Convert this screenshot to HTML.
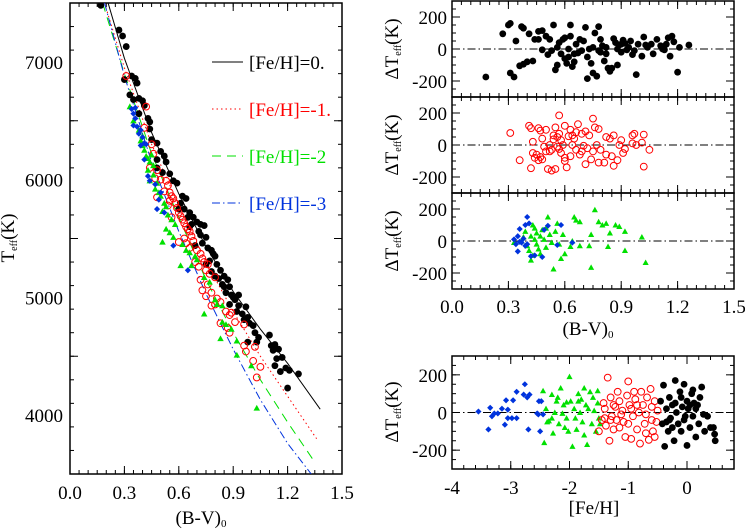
<!DOCTYPE html>
<html><head><meta charset="utf-8"><style>
html,body{margin:0;padding:0;background:#fff;}
svg{display:block;font-family:"Liberation Serif","DejaVu Serif",serif;}
</style></head><body>
<svg id="chart" width="745" height="531" viewBox="0 0 745 531" xmlns="http://www.w3.org/2000/svg"></svg>
<script>
// ---- Main panel data: (B-V)0, Teff ----
const mainBlackBV=[0.17,0.27,0.29,0.31,0.30,0.34,0.36,0.37,0.33,0.35,0.38,0.40,0.41,0.38,0.43,0.44,0.44,0.45,0.48,0.50,0.52,0.48,0.53,0.48,0.51,0.55,0.57,0.59,0.62,0.64,0.61,0.63,0.66,0.65,0.68,0.70,0.67,0.72,0.74,0.71,0.75,0.73,0.76,0.78,0.79,0.80,0.77,0.81,0.78,0.83,0.82,0.85,0.87,0.85,0.88,0.86,0.89,0.90,0.91,0.88,0.93,0.92,0.97,0.95,0.98,0.96,0.99,1.01,1.02,1.04,1.03,1.10,1.11,1.13,1.12,1.15,1.14,1.17,1.13,1.16,1.19,1.21,1.26,1.20,0.98,0.60,0.66,0.75,0.84,0.93,0.72,0.69,0.80];
const mainBlackT=[7480,7270,7220,7130,6850,6880,6860,6820,6720,6680,6690,6670,6630,6560,6520,6490,6430,6340,6310,6240,6200,6170,6150,6100,6060,6050,5990,5970,5860,5840,5800,5750,5720,5680,5680,5640,5620,5620,5610,5560,5510,5460,5420,5400,5370,5350,5310,5280,5220,5230,5160,5180,5150,5090,5090,5040,5020,5000,4980,4940,4930,4880,4920,4860,4830,4810,4780,4760,4700,4660,4620,4680,4590,4600,4550,4560,4480,4490,4420,4370,4400,4380,4350,4230,4620,5750,5600,5280,5110,5020,5530,5440,5180];
const mainRedBV=[0.31,0.42,0.41,0.45,0.46,0.44,0.48,0.47,0.50,0.53,0.54,0.52,0.55,0.56,0.57,0.55,0.58,0.54,0.59,0.60,0.61,0.62,0.63,0.64,0.65,0.66,0.67,0.63,0.68,0.64,0.66,0.70,0.72,0.73,0.69,0.74,0.76,0.71,0.75,0.77,0.80,0.72,0.76,0.73,0.78,0.75,0.81,0.83,0.80,0.78,0.86,0.89,0.88,0.83,0.87,0.91,0.96,0.88,0.96,0.97,1.02,1.01,1.05,1.03,0.60,0.48,0.56];
const mainRedT=[6880,6620,6440,6300,6220,6100,6080,6010,6000,5990,5950,5900,5890,5860,5840,5820,5800,5780,5760,5720,5690,5660,5630,5600,5580,5560,5520,5500,5480,5460,5420,5400,5370,5330,5300,5300,5280,5260,5230,5200,5170,5150,5110,5060,5040,5010,4990,4960,4940,4930,4880,4870,4850,4780,4740,4790,4770,4700,4590,4540,4580,4460,4410,4320,5470,5850,5680];
const mainGreenBV=[0.33,0.35,0.38,0.39,0.40,0.41,0.42,0.43,0.44,0.46,0.43,0.46,0.44,0.48,0.47,0.49,0.50,0.52,0.53,0.51,0.54,0.56,0.58,0.53,0.55,0.51,0.57,0.62,0.64,0.66,0.69,0.70,0.61,0.67,0.74,0.77,0.80,0.81,0.84,0.74,0.84,0.86,0.89,0.83,0.92,0.92,1.00,1.03,0.45,0.40];
const mainGreenT=[6620,6500,6420,6330,6290,6250,6200,6180,6150,6120,6080,6040,5990,5970,5920,5890,5860,5800,5770,5730,5700,5660,5620,5580,5550,5470,5510,5450,5400,5380,5350,5320,5270,5270,5170,5130,4980,4940,4930,4860,4790,4770,4730,4650,4630,4510,4420,4060,6210,6370];
const mainBlueBV=[0.34,0.35,0.36,0.35,0.37,0.39,0.38,0.40,0.41,0.39,0.41,0.43,0.44,0.47,0.50,0.49,0.48,0.52,0.57,0.65,0.36,0.42];
const mainBlueT=[6600,6560,6520,6460,6450,6420,6390,6360,6310,6290,6170,6030,5990,5960,5890,5830,5750,5720,5440,5230,6610,6300];
// fitted relations
const fitBlackBV=[0.21,0.3,0.45,0.6,0.75,0.9,1.05,1.2,1.38];
const fitBlackT=[7500,7030,6400,5880,5430,5050,4730,4440,4050];
const fitRedBV=[0.19,0.3,0.45,0.6,0.75,0.9,1.05,1.2,1.36];
const fitRedT=[7500,6950,6300,5780,5300,4880,4500,4160,3800];
const fitGreenBV=[0.18,0.3,0.45,0.6,0.75,0.9,1.05,1.2,1.35];
const fitGreenT=[7500,6900,6220,5680,5150,4700,4300,3940,3600];
const fitBlueBV=[0.19,0.3,0.45,0.6,0.75,0.9,1.05,1.2,1.33];
const fitBlueT=[7500,6880,6150,5560,5030,4560,4130,3760,3500];
// ---- residual panels ----
const resBlackBV=[0.18,0.27,0.30,0.31,0.31,0.33,0.34,0.36,0.37,0.38,0.38,0.40,0.41,0.43,0.44,0.46,0.46,0.48,0.50,0.51,0.52,0.53,0.54,0.55,0.56,0.57,0.58,0.59,0.60,0.60,0.61,0.62,0.62,0.63,0.63,0.64,0.65,0.66,0.67,0.68,0.69,0.70,0.71,0.72,0.72,0.73,0.74,0.75,0.75,0.76,0.77,0.78,0.78,0.79,0.80,0.81,0.82,0.82,0.83,0.84,0.85,0.86,0.87,0.88,0.88,0.89,0.90,0.91,0.92,0.93,0.94,0.95,0.96,0.97,0.98,0.99,1.01,1.02,1.03,1.04,1.06,1.07,1.09,1.11,1.12,1.13,1.14,1.15,1.16,1.17,1.18,1.20,1.21,1.26,0.90,0.56,0.65,0.48,0.79];
const resBlackDT=[-175,95,150,160,-150,-175,50,-105,140,130,-95,-80,95,-75,60,110,60,-5,80,-35,60,-10,150,-130,-100,40,-30,60,70,-60,-90,0,-50,150,80,-110,-80,30,-25,60,-10,50,135,-50,-185,0,-90,-150,10,100,-170,140,-10,60,20,-75,-30,10,-120,-140,-120,65,40,-100,0,25,-20,55,35,-5,10,50,-35,-10,-160,30,-45,75,25,10,30,-30,60,20,0,-5,30,70,-45,80,45,-145,10,25,30,10,-30,115,-20];
const resRedBV=[0.31,0.36,0.41,0.42,0.43,0.42,0.43,0.45,0.46,0.46,0.47,0.48,0.48,0.49,0.50,0.50,0.51,0.52,0.53,0.53,0.54,0.55,0.55,0.56,0.56,0.57,0.57,0.58,0.58,0.59,0.60,0.60,0.61,0.62,0.63,0.63,0.64,0.65,0.66,0.66,0.67,0.68,0.69,0.70,0.71,0.71,0.72,0.73,0.74,0.75,0.75,0.76,0.77,0.78,0.78,0.79,0.81,0.82,0.82,0.84,0.85,0.86,0.86,0.88,0.89,0.90,0.91,0.92,0.96,0.96,0.97,0.98,1.01,1.02,1.02,1.05,0.44,0.47,0.54,0.57,0.52,0.60,0.64,0.69];
const resRedDT=[75,-95,120,105,20,-145,-50,-60,105,-95,-75,40,-90,-10,-40,95,-150,-40,-160,-30,35,-150,110,50,-10,185,70,30,-50,0,-100,120,-140,55,95,-70,0,40,-30,80,130,-60,70,-5,-120,85,-20,60,-90,-40,165,110,0,100,-110,-30,-110,50,-60,40,-70,60,-130,-95,0,30,-50,-25,60,10,70,0,15,65,-135,-30,-80,90,60,-25,0,-80,60,-40];
const resGreenBV=[0.33,0.37,0.39,0.40,0.41,0.42,0.42,0.43,0.44,0.44,0.45,0.45,0.46,0.47,0.47,0.48,0.49,0.50,0.50,0.51,0.52,0.53,0.54,0.55,0.56,0.57,0.58,0.59,0.60,0.63,0.64,0.65,0.66,0.68,0.68,0.73,0.74,0.74,0.76,0.78,0.80,0.82,0.83,0.84,0.87,0.89,0.92,0.92,1.01,1.03,0.38,0.43];
const resGreenDT=[-10,0,60,-30,-60,30,-120,100,80,10,-20,50,-50,30,-80,70,10,-40,80,150,40,-10,-175,60,110,-20,-110,40,-80,-35,0,150,130,120,-30,-30,-165,40,195,120,100,110,-35,50,100,90,60,-60,25,-135,25,-90];
const resBlueBV=[0.33,0.34,0.35,0.35,0.36,0.37,0.38,0.39,0.39,0.40,0.40,0.41,0.42,0.44,0.48,0.49,0.51,0.56,0.58,0.64,0.36];
const resBlueDT=[10,-20,30,-65,75,-10,15,100,-30,150,-20,110,-95,-90,-100,70,95,-25,100,-10,-5];
// ---- [Fe/H] panel ----
const fehBlue=[-3.55,-3.38,-3.35,-3.32,-3.28,-3.22,-3.15,-3.10,-3.08,-3.05,-3.05,-2.98,-2.96,-2.90,-2.90,-2.78,-2.76,-2.72,-2.70,-2.68,-2.55,-2.53,-2.50,-2.48,-2.45,-2.52];
const fehBlueDT=[5,-90,25,-20,-5,-5,20,-65,65,-30,15,-30,65,-30,110,95,150,80,-90,95,-5,-10,-100,60,-10,60];
const fehGreen=[-2.45,-2.43,-2.40,-2.38,-2.35,-2.30,-2.28,-2.25,-2.22,-2.20,-2.18,-2.15,-2.12,-2.10,-2.08,-2.05,-2.02,-2.00,-1.98,-1.95,-1.92,-1.90,-1.88,-1.85,-1.82,-1.80,-1.78,-1.75,-1.72,-1.70,-1.68,-1.65,-1.62,-1.60,-1.58,-1.55,-1.52,-1.50,-1.52,-1.48,-2.3,-2.05,-1.75,-1.85];
const fehGreenDT=[115,-160,20,-50,-45,-30,-110,0,60,80,-60,130,-5,40,-80,55,-100,190,60,-180,20,-30,-90,100,0,70,-50,130,40,-170,20,110,-60,80,10,-100,50,-30,115,-60,95,-30,-120,60];
const fehRed=[-1.50,-1.45,-1.42,-1.40,-1.38,-1.35,-1.32,-1.30,-1.28,-1.25,-1.22,-1.20,-1.18,-1.15,-1.12,-1.10,-1.08,-1.05,-1.02,-1.00,-0.98,-0.95,-0.92,-0.90,-0.88,-0.85,-0.82,-0.80,-0.78,-0.75,-0.72,-0.70,-0.68,-0.65,-0.62,-0.60,-0.58,-0.55,-0.52,-0.50,-1.40,-1.30,-1.15,-1.00,-0.85,-0.70,-0.60,-0.55,-1.25,-0.95];
const fehRedDT=[-100,-40,50,-30,-70,185,-150,80,-20,-90,30,-40,110,60,-10,10,-50,-130,90,165,40,-140,-20,110,70,-90,0,-165,110,40,-60,-10,80,-145,125,30,-100,60,-50,10,20,-40,-80,-60,40,-110,-40,-130,40,20];
const fehBlack=[-0.45,-0.42,-0.40,-0.38,-0.35,-0.32,-0.30,-0.28,-0.25,-0.22,-0.20,-0.18,-0.15,-0.12,-0.10,-0.08,-0.05,-0.03,0.00,0.00,0.02,0.05,0.08,0.10,0.12,0.15,0.18,0.20,0.22,0.25,0.28,0.30,0.35,0.40,0.45,0.48,0.47,-0.30,-0.20,-0.10,0.05,0.15,-0.35,-0.05,0.10,-0.25];
const fehBlackDT=[60,-60,145,-180,20,-100,80,-30,40,-150,170,0,-60,110,-100,30,150,-20,60,-175,20,-80,100,-20,50,-130,40,-60,80,135,-10,-100,-20,-80,-80,-150,-115,-40,50,80,40,20,-50,-40,120,-80];
const mainXTicks=["0.0","0.3","0.6","0.9","1.2","1.5"];
const mainYTicks=["4000","5000","6000","7000"];
const resYTicks=["-200","0","200"];
const fehXTicks=["-4","-3","-2","-1","0"];

const FS=19;
const svg=document.getElementById('chart');
const NS='http://www.w3.org/2000/svg';
function mk(tag,attrs,parent){const e=document.createElementNS(NS,tag);for(const k in attrs)e.setAttribute(k,attrs[k]);(parent||svg).appendChild(e);return e;}
function lin(d0,d1,r0,r1){return v=>r0+(v-d0)/(d1-d0)*(r1-r0);}
const COL={k:'#000',r:'#ff0000',g:'#00e000',b:'#0033dd'};

function marker(g,type,x,y,s){
  let e;
  if(type==='k'){e=mk('circle',{cx:x,cy:y,r:3.4*s,fill:'#000'},g);}
  else if(type==='r'){e=mk('circle',{cx:x,cy:y,r:3.4*s,fill:'none',stroke:COL.r,'stroke-width':1},g);}
  else if(type==='g'){const a=3.6*s;e=mk('polygon',{points:`${x},${y-a} ${x-a},${y+a*0.8} ${x+a},${y+a*0.8}`,fill:COL.g},g);}
  else {const a=3.4*s;e=mk('polygon',{points:`${x},${y-a} ${x+a},${y} ${x},${y+a} ${x-a},${y}`,fill:COL.b},g);}
  
  
}
function frame(name,x0,y0,x1,y1,xs,ys,xMaj,xMin,yMaj,yMin){
  const g=mk('g',{});
  
  
  mk('rect',{x:x0,y:y0,width:x1-x0,height:y1-y0,fill:'none',stroke:'#000','stroke-width':1.5},g);
  const tk=(arr,len,isX)=>arr.forEach(v=>{
    if(isX){const p=xs(v);mk('line',{x1:p,x2:p,y1:y1,y2:y1-len,stroke:'#000'},g);mk('line',{x1:p,x2:p,y1:y0,y2:y0+len,stroke:'#000'},g);}
    else{const p=ys(v);mk('line',{x1:x0,x2:x0+len,y1:p,y2:p,stroke:'#000'},g);mk('line',{x1:x1,x2:x1-len,y1:p,y2:p,stroke:'#000'},g);}
  });
  tk(xMaj,8,true);tk(xMin,4,true);tk(yMaj,8,false);tk(yMin,4,false);
  return g;
}
function range(a,b,s){const r=[];for(let v=a;v<=b+1e-9;v+=s)r.push(+v.toFixed(4));return r;}
function text(str,x,y,anchor,size,name,fill){const t=mk('text',{x:x,y:y,'text-anchor':anchor,'font-size':size,fill:fill||'#000'});t.textContent=str;return t;}
function ytitle(prefix,x,y,name){
  const t=mk('text',{transform:`translate(${x},${y}) rotate(-90)`,'text-anchor':'middle','font-size':FS});
  
  t.appendChild(document.createTextNode(prefix));const s=mk('tspan',{'font-size':10,dy:3},t);s.textContent='eff';const s2=mk('tspan',{dy:-3},t);s2.textContent='(K)';
}

// ===== Main panel =====
const mx=lin(0,1.5,70,342), my=lin(3500,7500,474,3);
frame('main',70,3,342,474,mx,my,range(0,1.5,0.3),range(0,1.5,0.05),range(3500,7500,1000).slice(1),range(3500,7500,200));
mainXTicks.forEach(s=>text(s,mx(+s),499,'middle',FS,'x-tick-label'));
mainYTicks.forEach(s=>text(s,63,my(+s)+7,'end',FS,'y-tick-label'));
{const t=text('(B-V)',201,524,'middle',FS,'x-axis-title');const s=mk('tspan',{'font-size':11,dy:3},t);s.textContent='0';}
ytitle('T',14,238,'y-axis-title');
const clip=mk('clipPath',{id:'mclip'});mk('rect',{x:70,y:3,width:272,height:471},clip);
function fit(bv,T,color,dash,name){
  const pts=bv.map((v,i)=>mx(v).toFixed(1)+','+my(T[i]).toFixed(1)).join(' ');
  const p=mk('polyline',{points:pts,fill:'none',stroke:color,'stroke-width':1,'stroke-dasharray':dash,'clip-path':'url(#mclip)'});
  
  
}
fit(fitBlackBV,fitBlackT,'#000','none','fit-line-feh0');
fit(fitRedBV,fitRedT,COL.r,'1.5,3','fit-line-feh-1');
fit(fitGreenBV,fitGreenT,COL.g,'9,6','fit-line-feh-2');
fit(fitBlueBV,fitBlueT,COL.b,'8,3,1.5,3','fit-line-feh-3');
const gm=mk('g',{'clip-path':'url(#mclip)'});


mainBlackBV.forEach((v,i)=>marker(gm,'k',mx(v),my(mainBlackT[i]),1));
mainRedBV.forEach((v,i)=>marker(gm,'r',mx(v),my(mainRedT[i]),1));
mainGreenBV.forEach((v,i)=>marker(gm,'g',mx(v),my(mainGreenT[i]),0.9));
mainBlueBV.forEach((v,i)=>marker(gm,'b',mx(v),my(mainBlueT[i]),0.9));
// legend
const leg=[['[Fe/H]=0.','#000','none'],['[Fe/H]=-1.',COL.r,'1.5,3'],['[Fe/H]=-2',COL.g,'9,6'],['[Fe/H]=-3',COL.b,'8,3,1.5,3']];
leg.forEach((l,i)=>{const y=62+i*47;const g=mk('g',{});
 mk('line',{x1:212,x2:243,y1:y,y2:y,stroke:l[1],'stroke-dasharray':l[2]},g);
 const t=mk('text',{x:249,y:y+7,'font-size':FS,fill:l[1]},g);t.textContent=l[0];});

// ===== residual panels =====
const rx=lin(0,1.5,452,734);
const panels=[[1,97],[97,193],[193,289]];
panels.forEach((p,k)=>{
  const ry=lin(-300,300,p[1],p[0]);
  frame('residual-'+(k+1),452,p[0],734,p[1],rx,ry,range(0,1.5,0.3),range(0,1.5,0.05),[-200,0,200],range(-300,300,50));
  const z=mk('line',{x1:452,x2:734,y1:ry(0),y2:ry(0),stroke:'#000','stroke-dasharray':'8,3,1.5,3'});
  
  resYTicks.forEach(s=>text(s,447,ry(+s)+7,'end',FS,'y-tick-label'));
  ytitle('ΔT',398,(p[0]+p[1])/2,'y-axis-title');
  const g=mk('g',{});
  if(k===0)resBlackBV.forEach((v,i)=>marker(g,'k',rx(v),ry(resBlackDT[i]),1));
  if(k===1)resRedBV.forEach((v,i)=>marker(g,'r',rx(v),ry(resRedDT[i]),1));
  if(k===2){resGreenBV.forEach((v,i)=>marker(g,'g',rx(v),ry(resGreenDT[i]),0.85));resBlueBV.forEach((v,i)=>marker(g,'b',rx(v),ry(resBlueDT[i]),0.9));}
});
mainXTicks.forEach(s=>text(s,rx(+s),313,'middle',FS,'x-tick-label'));
{const t=text('(B-V)',588,335,'middle',FS,'x-axis-title');const s=mk('tspan',{'font-size':11,dy:3},t);s.textContent='0';}

// ===== [Fe/H] panel =====
const fx=lin(-4,0.8,452,734), fy=lin(-300,300,469,356);
frame('feh',452,356,734,469,fx,fy,range(-4,0,1),range(-4,0.8,0.2),[-200,0,200],range(-300,300,50));
{const z=mk('line',{x1:452,x2:734,y1:fy(0),y2:fy(0),stroke:'#000','stroke-dasharray':'8,3,1.5,3'});}
resYTicks.forEach(s=>text(s,447,fy(+s)+7,'end',FS,'y-tick-label'));
fehXTicks.forEach(s=>text(s,fx(+s),494,'middle',FS,'x-tick-label'));
text('[Fe/H]',594,514,'middle',FS,'x-axis-title');
ytitle('ΔT',398,412,'y-axis-title');
const gf=mk('g',{});
fehBlue.forEach((v,i)=>marker(gf,'b',fx(v),fy(fehBlueDT[i]),0.9));
fehGreen.forEach((v,i)=>marker(gf,'g',fx(v),fy(fehGreenDT[i]),0.85));
fehRed.forEach((v,i)=>marker(gf,'r',fx(v),fy(fehRedDT[i]),1));
fehBlack.forEach((v,i)=>marker(gf,'k',fx(v),fy(fehBlackDT[i]),1));
</script>
</body></html>
